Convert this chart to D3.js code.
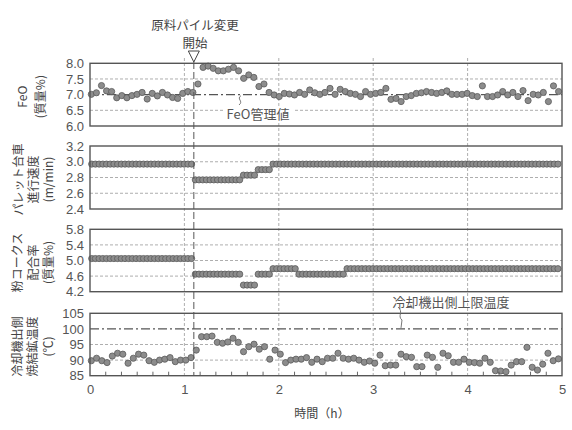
<!DOCTYPE html>
<html><head><meta charset="utf-8">
<script src="https://cdn.jsdelivr.net/npm/d3@7"></script>
<style>
html,body{margin:0;padding:0;background:#fff;}
svg{display:block;}
text{font-family:"Liberation Sans",Arial,"Noto Sans CJK JP",sans-serif;}
.jp{font-family:"Noto Sans CJK JP","Liberation Sans",sans-serif;}
</style>
</head><body>
<svg id="chart" width="572" height="430"></svg>
<script>
// ---------------- DATA ----------------
const xTicks = [0, 1, 2, 3, 4, 5];
const changeTime = 1.1;

// FeO (mass%), sampled at regular intervals
const feoStart = 0.014, feoStep = 0.0538;
const feo = [7.01,7.06,7.29,7.12,7.10,6.90,6.97,6.90,6.97,7.01,7.07,6.86,7.04,6.96,7.07,6.99,6.91,6.88,7.04,7.10,
  7.07,7.34,7.87,7.91,7.84,7.76,7.76,7.81,7.87,7.76,7.52,7.63,7.55,7.26,7.34,7.07,6.99,6.94,7.04,7.02,
  6.99,7.07,7.01,7.15,7.06,7.01,7.07,
  7.20,7.01,7.17,7.10,7.04,7.01,6.94,7.10,7.01,7.04,7.07,7.20,6.85,6.88,6.78,6.94,6.97,7.04,7.06,7.10,
  7.07,7.04,7.07,7.12,7.01,7.01,7.01,7.04,6.97,6.94,7.28,6.94,6.94,6.99,7.10,6.99,7.07,6.94,7.13,6.81,
  7.01,6.99,7.07,6.78,7.28,7.10];
const feoTicks = [6.0, 6.5, 7.0, 7.5, 8.0];
const feoTarget = 7.0;

// Pallet speed (m/min) and coke rate (mass%), run-length coded set values
const rateStart = 0.018, rateStep = 0.0392;
const speedLevels = [2.97, 2.77, 2.83, 2.90, 2.97];
const speedCounts = [28, 13, 4, 4, 78];
const speedTicks = [2.4, 2.6, 2.8, 3.0, 3.2];

const cokeLevels = [5.05, 4.65, 4.37, 4.65, 4.79, 4.65, 4.79];
const cokeCounts = [28, 13, 4, 4, 7, 13, 58];
const cokeTicks = [4.2, 4.6, 5.0, 5.4, 5.8];

// Sinter temperature at cooler exit (°C)
const tempStart = 0.014, tempStep = 0.0556;
const temp = [89.8,90.6,89.8,89.2,91.3,92.2,91.9,89.0,90.6,91.9,91.6,89.8,89.3,90.0,90.3,90.8,89.5,90.0,90.0,90.8,
  93.2,97.5,97.5,97.7,95.7,95.4,95.8,97.0,95.7,92.7,94.3,95.1,93.5,94.3,90.3,93.2,91.9,89.2,90.0,90.3,
  90.3,90.8,89.3,90.3,89.5,
  90.6,90.6,92.2,90.6,90.3,90.6,90.0,89.3,89.7,89.0,91.6,88.2,88.4,88.4,91.9,91.1,90.9,87.9,87.9,91.6,
  90.9,87.7,92.2,91.4,89.3,89.3,90.3,89.3,89.2,89.0,90.6,89.3,86.6,86.5,86.3,88.4,89.5,89.5,94.1,87.7,
  86.8,88.7,92.2,89.8,90.4];
const tempTicks = [85, 90, 95, 100, 105];
const tempLimit = 100;

// ---------------- HELPERS ----------------
function regular(values, start, step){ return values.map((v,i)=>({t:start+i*step, v})); }
function rle(levels, counts, start, step){
  const out=[]; let i=0;
  levels.forEach((lv,k)=>{ for(let c=0;c<counts[k];c++){ out.push({t:start+i*step, v:lv}); i++; } });
  return out;
}

const svg = d3.select("#chart");
const L = 90, R = 562;
const x = d3.scaleLinear().domain([0,5]).range([L,R]);

const panels = [
  {top:63.3, bot:126, domain:[6.0,8.0], ticks:feoTicks, fmt:d3.format(".1f"),
   data:regular(feo,feoStart,feoStep), grid:[6.5,7.5], dashdot:feoTarget,
   label:["FeO","(質量%)"], lx:[21,39]},
  {top:146, bot:209, domain:[2.4,3.2], ticks:speedTicks, fmt:d3.format(".1f"),
   data:rle(speedLevels,speedCounts,rateStart,rateStep), grid:[2.6,2.8,3.0],
   label:["パレット台車","進行速度","(m/min)"], lx:[17,32,47]},
  {top:229.3, bot:291.7, domain:[4.2,5.8], ticks:cokeTicks, fmt:d3.format(".1f"),
   data:rle(cokeLevels,cokeCounts,rateStart,rateStep), grid:[4.6,5.0,5.4],
   label:["粉コークス","配合率","(質量%)"], lx:[16,32,47]},
  {top:313.3, bot:375.7, domain:[85,105], ticks:tempTicks, fmt:d3.format("d"),
   data:regular(temp,tempStart,tempStep), grid:[90,95], dashdot:tempLimit,
   label:["冷却機出側","焼結鉱温度","(℃)"], lx:[16,31,47]}
];

// vertical hour grid lines
svg.append("g").selectAll("line").data([1,2,3,4]).join("line")
  .attr("x1",d=>x(d)).attr("x2",d=>x(d)).attr("y1",58).attr("y2",375.7)
  .attr("stroke","#999").attr("stroke-width",0.8).attr("stroke-dasharray","3,2");

panels.forEach(p=>{
  p.y = d3.scaleLinear().domain(p.domain).range([p.bot,p.top]);
  const g = svg.append("g");
  g.selectAll("line.grid").data(p.grid).join("line").attr("class","grid")
    .attr("x1",L).attr("x2",R).attr("y1",d=>p.y(d)).attr("y2",d=>p.y(d))
    .attr("stroke","#999").attr("stroke-width",0.8).attr("stroke-dasharray","3,2");
  if(p.dashdot!==undefined){
    g.append("line").attr("x1",L).attr("x2",R).attr("y1",p.y(p.dashdot)).attr("y2",p.y(p.dashdot))
      .attr("stroke","#555").attr("stroke-width",1.1).attr("stroke-dasharray","9,3,2,3");
  }
  p.g = g;
  const ax = d3.axisLeft(p.y).tickValues(p.ticks).tickFormat(p.fmt).tickSize(0).tickPadding(6);
  const ag = g.append("g").attr("transform",`translate(${L},0)`).call(ax);
  ag.select(".domain").remove();
  ag.selectAll("text").attr("font-size",13).attr("fill","#555")
    .attr("font-family",'"Liberation Sans",Arial,sans-serif');
  const cy = (p.top+p.bot)/2 + 2;
  p.label.forEach((s,i)=>{
    g.append("text").attr("class","jp")
      .attr("transform",`translate(${p.lx[i]},${cy}) rotate(-90)`)
      .attr("text-anchor","middle").attr("dominant-baseline","central")
      .attr("font-size",12).attr("fill","#444").text(s);
  });
});

// change line (1.1 h)
svg.append("line").attr("x1",x(changeTime)).attr("x2",x(changeTime)).attr("y1",62).attr("y2",375.7)
  .attr("stroke","#555").attr("stroke-width",1).attr("stroke-dasharray","7,3");

// points & frames
panels.forEach(p=>{
  p.g.selectAll("circle").data(p.data).join("circle")
    .attr("cx",d=>x(d.t)).attr("cy",d=>p.y(d.v)).attr("r",3.1)
    .attr("fill","#8c8c8c").attr("stroke","#5a5a5a").attr("stroke-width",0.8);
  p.g.append("rect").attr("x",L).attr("y",p.top).attr("width",R-L).attr("height",p.bot-p.top)
    .attr("fill","none").attr("stroke","#555").attr("stroke-width",1.4);
});

// minor ticks on bottom panel
const bp = panels[3];
const minor = d3.range(1,30).map(i=>i/6).filter(v=>Math.abs(v-Math.round(v))>1e-6);
svg.append("g").selectAll("line").data(minor).join("line")
  .attr("x1",d=>x(d)).attr("x2",d=>x(d)).attr("y1",bp.bot).attr("y2",bp.bot-4)
  .attr("stroke","#555").attr("stroke-width",0.9);

// x axis labels
const xa = svg.append("g").attr("transform",`translate(0,${bp.bot})`)
  .call(d3.axisBottom(x).tickValues(xTicks).tickFormat(d3.format("d")).tickSize(0).tickPadding(9));
xa.select(".domain").remove();
xa.selectAll("text").attr("font-size",13).attr("fill","#555")
  .attr("font-family",'"Liberation Sans",Arial,sans-serif');
svg.append("text").attr("class","jp").attr("x",322).attr("y",412).attr("text-anchor","middle")
  .attr("dominant-baseline","central").attr("font-size",12).attr("fill","#444").text("時間（h）");

// annotation: change start
svg.append("text").attr("class","jp").attr("x",195).attr("y",24).attr("text-anchor","middle")
  .attr("dominant-baseline","central").attr("font-size",12.5).attr("fill","#444").text("原料パイル変更");
svg.append("text").attr("class","jp").attr("x",195).attr("y",42.5).attr("text-anchor","middle")
  .attr("dominant-baseline","central").attr("font-size",12.5).attr("fill","#444").text("開始");
const tx = x(changeTime);
svg.append("path").attr("d",`M${tx-5.5},51 L${tx+5.5},51 L${tx},62 Z`)
  .attr("fill","#fff").attr("stroke","#444").attr("stroke-width",1);

// FeO target label
const fp = panels[0];
svg.append("rect").attr("x",223).attr("y",106).attr("width",70).attr("height",15).attr("fill","#fff");
svg.append("text").attr("class","jp").attr("x",258).attr("y",113.5).attr("text-anchor","middle")
  .attr("dominant-baseline","central").attr("font-size",13).attr("fill","#555").text("FeO管理値");
svg.append("path").attr("d",`M241,${fp.y(7.0)+1} C236,99 244,101 239,105`)
  .attr("fill","none").attr("stroke","#666").attr("stroke-width",0.9);

// temperature limit label
svg.append("text").attr("class","jp").attr("x",451).attr("y",301.5).attr("text-anchor","middle")
  .attr("dominant-baseline","central").attr("font-size",13).attr("fill","#555").text("冷却機出側上限温度");
svg.append("path").attr("d",`M398,307 C404,312 397,316 402,320 L401,${bp.y(100)-1}`)
  .attr("fill","none").attr("stroke","#666").attr("stroke-width",0.9);
</script>
</body></html>
